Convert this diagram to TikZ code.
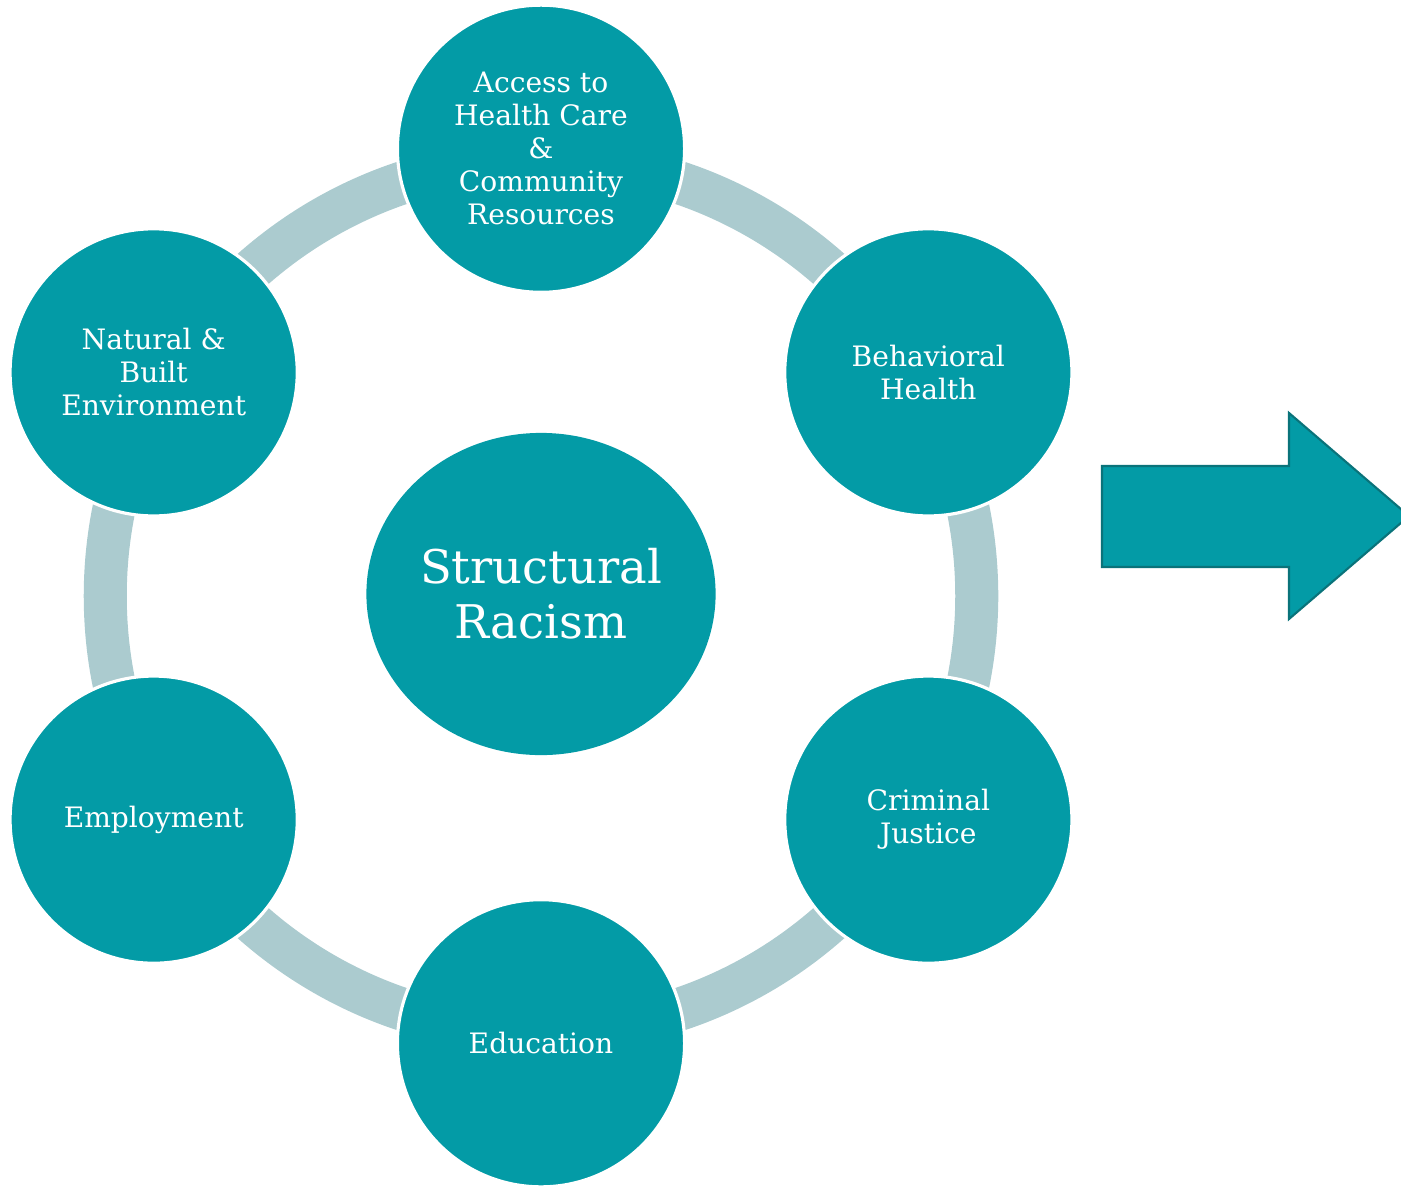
\documentclass[tikz,border=0pt]{standalone}
\usepackage{fontspec}
\setmainfont{DejaVu Serif}
\usetikzlibrary{positioning, calc, shapes.geometric}
\definecolor{tealcol}{HTML}{039BA6}
\definecolor{ringcol}{HTML}{ABCBCF}
\definecolor{edgecol}{HTML}{0A737A}

\begin{document}
\begin{tikzpicture}[
    x=0.01cm, y=-0.01cm,
    factor/.style={
        circle, draw=white, line width=0.9pt, fill=tealcol, minimum size=2.87cm,
        inner sep=0pt, align=center, text=white, font=\fontsize{8}{9.4}\selectfont
    },
    core/.style={
        ellipse, fill=tealcol, minimum width=3.49cm, minimum height=3.22cm,
        inner sep=0pt, align=center, text=white, font=\fontsize{13.2}{15.6}\selectfont
    },
]
\useasboundingbox (0,0) rectangle (1401,1185);

% ── Ring ──
\coordinate (hub) at (541,596);
\draw[ringcol, line width=0.43cm] (hub) circle[radius=4.355cm];

% ── Factors round the ring ──
\node[factor] (access) at ($(hub)+(90:4.47cm)$)
    {Access to\\Health Care\\\&\\Community\\Resources};
\node[factor] (behav)  at ($(hub)+(30:4.47cm)$)  {Behavioral\\Health};
\node[factor] (crim)   at ($(hub)+(-30:4.47cm)$) {Criminal\\Justice};
\node[factor] (edu)    at ($(hub)+(-90:4.47cm)$) {Education};
\node[factor] (employ) at ($(hub)+(210:4.47cm)$) {Employment};
\node[factor] (natural) at ($(hub)+(150:4.47cm)$) {Natural \&\\Built\\Environment};

% ── Centre ──
\node[core] (racism) at (541,594) {Structural\\Racism};

% ── Block arrow ──
\coordinate (tail) at (1102,516);
\draw[fill=tealcol, draw=edgecol, line width=0.6pt]
    ($(tail)+(0,-50)$) -- ($(tail)+(187,-50)$) -- ($(tail)+(187,-103)$)
    -- ($(tail)+(307,0)$) -- ($(tail)+(187,103)$) -- ($(tail)+(187,51)$)
    -- ($(tail)+(0,51)$) -- cycle;
\end{tikzpicture}
\end{document}
